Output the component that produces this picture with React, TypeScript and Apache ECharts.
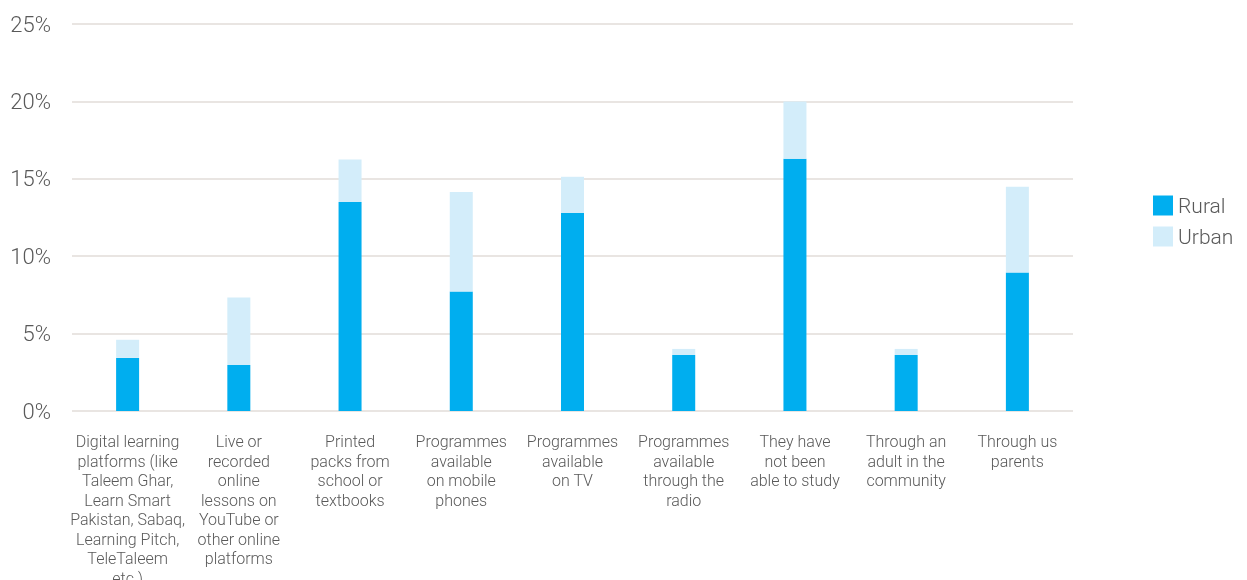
import React, { useEffect, useRef } from "react";
import * as echarts from "echarts";

const categories = [
  "Digital learning\nplatforms (like\nTaleem Ghar,\nLearn Smart\nPakistan, Sabaq,\nLearning Pitch,\nTeleTaleem\netc.)",
  "Live or\nrecorded\nonline\nlessons on\nYouTube or\nother online\nplatforms",
  "Printed\npacks from\nschool or\ntextbooks",
  "Programmes\navailable\non mobile\nphones",
  "Programmes\navailable\non TV",
  "Programmes\navailable\nthrough the\nradio",
  "They have\nnot been\nable to study",
  "Through an\nadult in the\ncommunity",
  "Through us\nparents",
];

const rural = [3.43, 2.97, 13.5, 7.72, 12.79, 3.62, 16.3, 3.62, 8.95];
const urban = [1.17, 4.36, 2.74, 6.43, 2.34, 0.39, 3.7, 0.39, 5.53];

const yTicks = [0, 5, 10, 15, 20, 25];

const FONT = "Roboto, 'Liberation Sans', Arial, sans-serif";
const TEXT = "#595959";
const GRID = "#e2ddd9";

export default function App() {
  const ref = useRef<HTMLDivElement>(null);
  useEffect(() => {
    if (!ref.current) return;
    const chart = echarts.init(ref.current, undefined, { renderer: "svg" });
    chart.setOption({
      animation: false,
      textStyle: { fontFamily: FONT },
      grid: {
        left: 72,
        right: 174,
        top: 24,
        bottom: 169,
        containLabel: false,
        outerBoundsMode: "none",
      },
      legend: {
        orient: "vertical",
        left: 1153,
        top: 195,
        padding: 0,
        itemWidth: 20,
        itemHeight: 20,
        itemGap: 10,
        icon: "rect",
        textStyle: { color: TEXT, fontSize: 21, fontFamily: FONT, fontWeight: 300 },
        data: ["Rural", "Urban"],
      },
      xAxis: {
        type: "category",
        data: categories,
        axisLine: { show: false },
        axisTick: { show: false },
        axisLabel: {
          interval: 0,
          color: TEXT,
          fontSize: 16,
          lineHeight: 19.5,
          fontFamily: FONT,
          fontWeight: 300,
          margin: 21,
          align: "center",
        },
      },
      yAxis: {
        type: "value",
        min: yTicks[0],
        max: yTicks[yTicks.length - 1],
        interval: 5,
        axisLine: { show: false },
        axisTick: { show: false },
        splitLine: { lineStyle: { color: GRID, width: 1.5 } },
        axisLabel: {
          color: TEXT,
          fontSize: 22,
          fontFamily: FONT,
          fontWeight: 300,
          margin: 21,
          formatter: (v: number) => `${v}%`,
        },
      },
      series: [
        {
          name: "Rural",
          type: "bar",
          stack: "total",
          data: rural,
          barWidth: 23,
          itemStyle: { color: "#00aeef" },
        },
        {
          name: "Urban",
          type: "bar",
          stack: "total",
          data: urban,
          barWidth: 23,
          itemStyle: { color: "#d3edfa" },
        },
      ],
    });
    return () => chart.dispose();
  }, []);
  return (
    <div
      ref={ref}
      style={{ position: "fixed", left: 0, top: 0, width: 1247, height: 580 }}
    />
  );
}
